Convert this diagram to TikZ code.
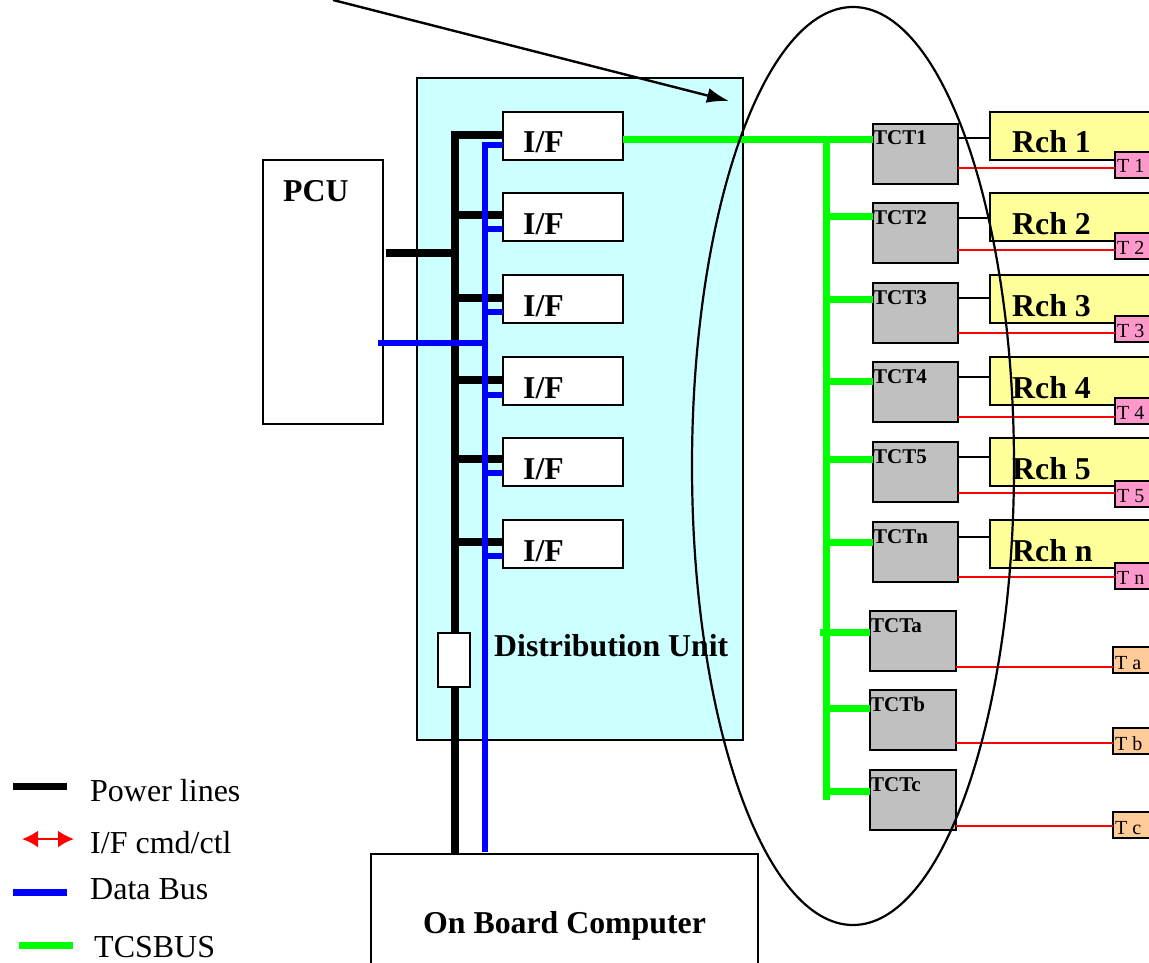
\documentclass[tikz,border=0pt]{standalone}
\usepackage{fontspec}
\setmainfont{Liberation Serif}
\usetikzlibrary{arrows.meta,calc,shapes.geometric}
\definecolor{ducyan}{HTML}{CCFFFF}
\definecolor{rchyellow}{HTML}{FFFF99}
\definecolor{tpink}{HTML}{FF99CC}
\definecolor{torange}{HTML}{FFCC99}
\definecolor{tctgrey}{HTML}{C0C0C0}
\definecolor{busgreen}{HTML}{00FF00}
\definecolor{busblue}{HTML}{0000FF}
\definecolor{cmdred}{HTML}{FF0000}
\begin{document}
\begin{tikzpicture}[x=1pt,y=-1pt,
  box/.style={draw, line width=1.6pt, inner sep=0pt, outer sep=0pt, anchor=north west},
  ifbox/.style={box, fill=white, minimum width=120pt, minimum height=48pt},
  tctbox/.style={box, fill=tctgrey, minimum width=85pt, minimum height=60pt},
  rchbox/.style={box, fill=rchyellow, minimum width=220pt, minimum height=48pt},
  tpbox/.style={box, fill=tpink, minimum width=60pt, minimum height=26pt},
  tobox/.style={box, fill=torange, minimum width=60pt, minimum height=26pt},
  bigtxt/.style={font=\fontsize{31.8}{32}\selectfont\bfseries, inner sep=0pt, anchor=base west},
  tcttxt/.style={font=\fontsize{21}{21}\selectfont\bfseries, inner sep=0pt, anchor=base west},
  ttxt/.style={font=\fontsize{20}{20}\selectfont, inner sep=0pt, anchor=base west},
  legtxt/.style={font=\fontsize{32}{32}\selectfont, inner sep=0pt, anchor=base west},
  pwr/.style={line width=8pt, black, line join=miter},
  dbus/.style={line width=6pt, busblue, line join=miter},
  gbus/.style={line width=7pt, busgreen, line join=miter},
  cmd/.style={line width=2pt, cmdred},
  thinlink/.style={line width=2pt, black}
]
\useasboundingbox (0,0) rectangle (1149,963);
\begin{scope}
\clip (0,0) rectangle (1149,963);

% Distribution unit
\node[box, fill=ducyan, minimum width=326pt, minimum height=662pt] (du) at (417,78) {};
\node[bigtxt] (dulbl) at (494,656) {Distribution Unit};

% PCU
\node[box, fill=white, minimum width=120pt, minimum height=264pt] (pcu) at (263,160) {};
\node[bigtxt] (pculbl) at (283,201) {PCU};

% On board computer
\node[box, fill=white, minimum width=387pt, minimum height=150pt] (obc) at (371,854) {};
\node[bigtxt] (obclbl) at (423,933) {On Board Computer};

% I/F boxes
\foreach \i/\t in {1/112,2/193,3/275,4/357,5/438,6/520}{
  \node[ifbox] (if\i) at (503,\t) {};
  \node[bigtxt] (if\i lbl) at (523,\t+41) {I/F};
}

% power lines
\coordinate (ptop) at (455,135);
\draw[pwr] (if1.west |- ptop) -- (ptop) -- (ptop |- obc.north);
\foreach \i/\y in {2/215,3/298,4/380,5/459,6/542}{
  \coordinate (pj\i) at (455,\y);
  \draw[pwr] (pj\i) -- (pj\i -| if\i.west);
}
\coordinate (pcupw) at (386,253);
\draw[pwr] (pcupw) -- (pcupw -| ptop);

% data bus
\coordinate (btop) at (485,145);
\draw[dbus] (if1.west |- btop) -- (btop) -- ($(btop |- obc.north)+(0,-2)$);
\foreach \i/\y in {2/229,3/312,4/395,5/473,6/556}{
  \coordinate (bj\i) at (485,\y);
  \draw[dbus] (bj\i) -- (bj\i -| if\i.west);
}
\coordinate (pcudb) at (378,343);
\draw[dbus] (pcudb) -- (pcudb -| btop);

% fuse
\node[box, fill=white, minimum width=32pt, minimum height=54pt] (fuse) at (438,633) {};

% TCT boxes with Rch
\foreach \n/\t/\g/\k/\r/\R/\T in {1/124/140/138/168/112/152, 2/203/216/218/250/193/233, 3/283/299/298/333/275/316, 4/362/381/377/417/357/398, 5/442/459/457/493/438/481, n/522/542/537/577/520/563}{
  \node[tctbox] (tct\n) at (873,\t) {};
  \node[tcttxt] (tct\n lbl) at (873,\t+21) {TCT\n};
  \node[rchbox] (rch\n) at (990,\R) {};
  \node[bigtxt] (rch\n lbl) at (1012,\R+41) {Rch \n};
  \node[tpbox] (t\n) at (1115,\T) {};
  \node[ttxt] (t\n lbl) at (1117,\T+21) {T \n};
  \coordinate (kl\n) at (958,\k);
  \draw[thinlink] (kl\n) -- (kl\n -| rch\n.west);
  \coordinate (rl\n) at (958,\r);
  \draw[cmd] (rl\n) -- (rl\n -| t\n.west);
  \coordinate (gl\n) at (826,\g);
  \draw[gbus] (gl\n) -- (gl\n -| tct\n.west);
}
\foreach \n/\t/\g/\r/\T/\gs in {a/611/632/667/647/820, b/690/708/743/728/826, c/770/791/826/812/826}{
  \node[tctbox, minimum width=86pt] (tct\n) at (870,\t) {};
  \node[tcttxt] (tct\n lbl) at (870,\t+21) {TCT\n};
  \node[tobox] (t\n) at (1113,\T) {};
  \node[ttxt] (t\n lbl) at (1115,\T+22) {T \n};
  \coordinate (rl\n) at (956,\r);
  \draw[cmd] (rl\n) -- (rl\n -| t\n.west);
  \coordinate (gl\n) at (\gs,\g);
  \draw[gbus] (gl\n) -- (gl\n -| tct\n.west);
}

% TCS bus
\coordinate (gtop) at (826,140);
\coordinate (gbot) at (826,800);
\draw[gbus] (if1.east |- gtop) -- (gtop -| tct1.west);
\draw[gbus] (gtop) -- (gbot);

% ellipse and arrow
\node[ellipse, draw, line width=2.2pt, inner sep=0pt, minimum width=322pt, minimum height=918pt] (ell) at (853,466) {};
\coordinate (arrS) at (333,0);
\coordinate (arrE) at (729,101);
\draw[line width=2.4pt, -{Latex[length=22pt,width=15pt]}] (arrS) -- (arrE);

% legend
\coordinate (lg1a) at (13,786); \coordinate (lg1b) at (67,786);
\draw[line width=7pt, black] (lg1a) -- (lg1b);
\node[legtxt] (lg1) at (90,801) {Power lines};
\coordinate (lg2a) at (22,839); \coordinate (lg2b) at (74,839);
\draw[line width=2.5pt, cmdred, {Latex[length=16pt,width=17pt]}-{Latex[length=16pt,width=17pt]}] (lg2a) -- (lg2b);
\node[legtxt] (lg2) at (90,853) {I/F cmd/ctl};
\coordinate (lg3a) at (13,892); \coordinate (lg3b) at (67,892);
\draw[line width=7pt, busblue] (lg3a) -- (lg3b);
\node[legtxt] (lg3) at (90,899) {Data Bus};
\coordinate (lg4a) at (19,945); \coordinate (lg4b) at (73,945);
\draw[line width=7pt, busgreen] (lg4a) -- (lg4b);
\node[legtxt] (lg4) at (94,957) {TCSBUS};
\end{scope}
\end{tikzpicture}
\end{document}
